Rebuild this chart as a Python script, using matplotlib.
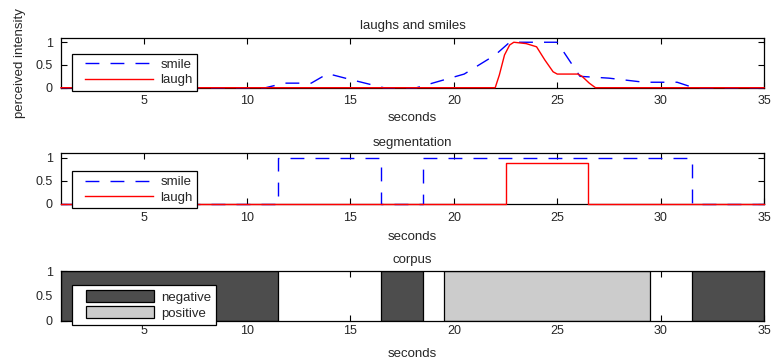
import matplotlib
matplotlib.use("Agg")
import matplotlib.pyplot as plt
from matplotlib.legend_handler import HandlerLine2D, HandlerPatch
from matplotlib.lines import Line2D
from matplotlib.patches import Rectangle
import numpy as np

plt.rcParams['font.family'] = ['Liberation Sans', 'DejaVu Sans']
plt.rcParams['lines.scale_dashes'] = False

# ---------------- data ----------------
x_ticks = [5, 10, 15, 20, 25, 30, 35]
y_ticks = [0, 0.5, 1]
y_ticklabels = ['0', '0.5', '1']

# panel 1: perceived intensity
smile_t = [1, 10.9, 11.8, 13.1, 13.9, 15.0, 16.6, 18.2, 20.5, 22.0, 22.7, 25.0,
           26.1, 27.5, 29.2, 30.8, 31.6, 35]
smile_v = [0, 0, 0.1, 0.1, 0.31, 0.18, 0, 0, 0.3, 0.72, 1.0, 1.0,
           0.25, 0.21, 0.12, 0.12, 0, 0]
laugh_t = [1, 22.0, 22.2, 22.45, 22.7, 22.9, 23.5, 24.0, 24.4, 24.8, 25.0,
           26.0, 26.2, 26.55, 26.85, 35]
laugh_v = [0, 0, 0.28, 0.72, 0.94, 1.0, 0.97, 0.9, 0.61, 0.35, 0.3,
           0.3, 0.25, 0.1, 0, 0]

# panel 2: segmentation (step functions)
seg_smile_t = [1, 11.5, 16.5, 18.5, 31.5, 35]
seg_smile_v = [0, 1, 0, 1, 0, 0]
seg_laugh_t = [1, 22.5, 26.5, 35]
seg_laugh_v = [0, 0.9, 0, 0]

# panel 3: corpus segments
corpus_start = [1, 11.5, 16.5, 18.5, 19.5, 29.5, 31.5]
corpus_end = [11.5, 16.5, 18.5, 19.5, 29.5, 31.5, 35]
corpus_class = ['negative', 'neutral', 'negative', 'neutral', 'positive', 'neutral', 'negative']

# ---------------- style ----------------
BLUE = '#0000ff'
RED = '#ff0000'
NEG = '#4d4d4d'
POS = '#cccccc'
TXT = '#262626'
FS = 9.5
DASH = (10, 8)


class InsetMixin:
    inset = 6.0

    def adjust_drawing_area(self, legend, orig_handle, xdescent, ydescent,
                            width, height, fontsize):
        xd, yd, w, h = super().adjust_drawing_area(
            legend, orig_handle, xdescent, ydescent, width, height, fontsize)
        return xd - self.inset, yd, w - self.inset, h


class InsetLine(InsetMixin, HandlerLine2D):
    pass


class InsetPatch(InsetMixin, HandlerPatch):
    pass


fig = plt.figure(figsize=(7.72, 3.62), dpi=100)
L, W = 61 / 772, 703 / 772
ax1 = fig.add_axes([L, 1 - 87.7 / 362, W, 50 / 362])
ax2 = fig.add_axes([L, 1 - 204 / 362, W, 50.7 / 362])
ax3 = fig.add_axes([L, 1 - 320.7 / 362, W, 49.7 / 362])

# panel 1
ax1.plot(smile_t, smile_v, color=BLUE, lw=1.0, dashes=DASH, label='smile',
         clip_on=False, zorder=3)
ax1.plot(laugh_t, laugh_v, color=RED, lw=1.0, label='laugh',
         clip_on=False, zorder=3.1)
ax1.set_ylim(0, 1.1)

# panel 2
ax2.step(seg_smile_t, seg_smile_v, where='post', color=BLUE, lw=1.0,
         dashes=DASH, label='smile', clip_on=False, zorder=3)
ax2.step(seg_laugh_t, seg_laugh_v, where='post', color=RED, lw=1.0,
         label='laugh', clip_on=False, zorder=3.1)
ax2.set_ylim(0, 1.1)

# panel 3
cs = np.array(corpus_start)
ce = np.array(corpus_end)
cc = np.array(corpus_class)
handles3 = []
for cls, col in [('negative', NEG), ('positive', POS)]:
    m = cc == cls
    b = ax3.bar(cs[m], np.ones(m.sum()), width=(ce - cs)[m], align='edge',
                color=col, edgecolor='black', linewidth=0.9, label=cls, zorder=1)
    handles3.append(b.patches[0])
ax3.set_ylim(0, 1)
ax3.set_axisbelow(True)

titles = ['laughs and smiles', 'segmentation', 'corpus']
title_pads = [6.2, 5.3, 6.0]
xlabel_pads = [3.5, 5.5, 8.0]
xtick_pads = [5.5, 5.5, 3.2]
for ax, t, tp, lp, xp in zip([ax1, ax2, ax3], titles, title_pads, xlabel_pads, xtick_pads):
    ax.set_xlim(1, 35)
    ax.set_xticks(x_ticks)
    ax.set_yticks(y_ticks)
    ax.set_yticklabels(y_ticklabels)
    ax.tick_params(direction='in', top=True, right=True, length=4.5, width=0.8,
                   labelsize=9, labelcolor=TXT)
    ax.tick_params(axis='x', pad=xp)
    ax.tick_params(axis='y', pad=6)
    for s in ax.spines.values():
        s.set_linewidth(0.9)
    ax.set_title(t, fontsize=FS, pad=tp, color=TXT)
    ax.set_xlabel('seconds', fontsize=FS, labelpad=lp, color=TXT)

ax1.set_ylabel('perceived intensity', fontsize=FS, labelpad=7, color=TXT)

leg_kw = dict(loc='lower left', fontsize=FS, borderaxespad=0, fancybox=False,
              framealpha=1, edgecolor='black', handlelength=5.8,
              handletextpad=0.55, borderpad=0.35, labelspacing=0.25)

lg1 = ax1.legend(bbox_to_anchor=(0.0156, -0.066), handler_map={Line2D: InsetLine()}, **leg_kw)
lg2 = ax2.legend(bbox_to_anchor=(0.0156, -0.085), handler_map={Line2D: InsetLine()}, **leg_kw)
kw3 = dict(leg_kw)
kw3.update(handleheight=1.0, labelspacing=0.21, borderpad=0.4)
lg3 = ax3.legend(handles=handles3, labels=['negative', 'positive'],
                 bbox_to_anchor=(0.0156, -0.087), handler_map={Rectangle: InsetPatch()}, **kw3)
for lg in (lg1, lg2, lg3):
    lg.get_frame().set_linewidth(0.9)
    lg.set_zorder(10)
    for txt in lg.get_texts():
        txt.set_color(TXT)

fig.savefig('out.png', dpi=100)
